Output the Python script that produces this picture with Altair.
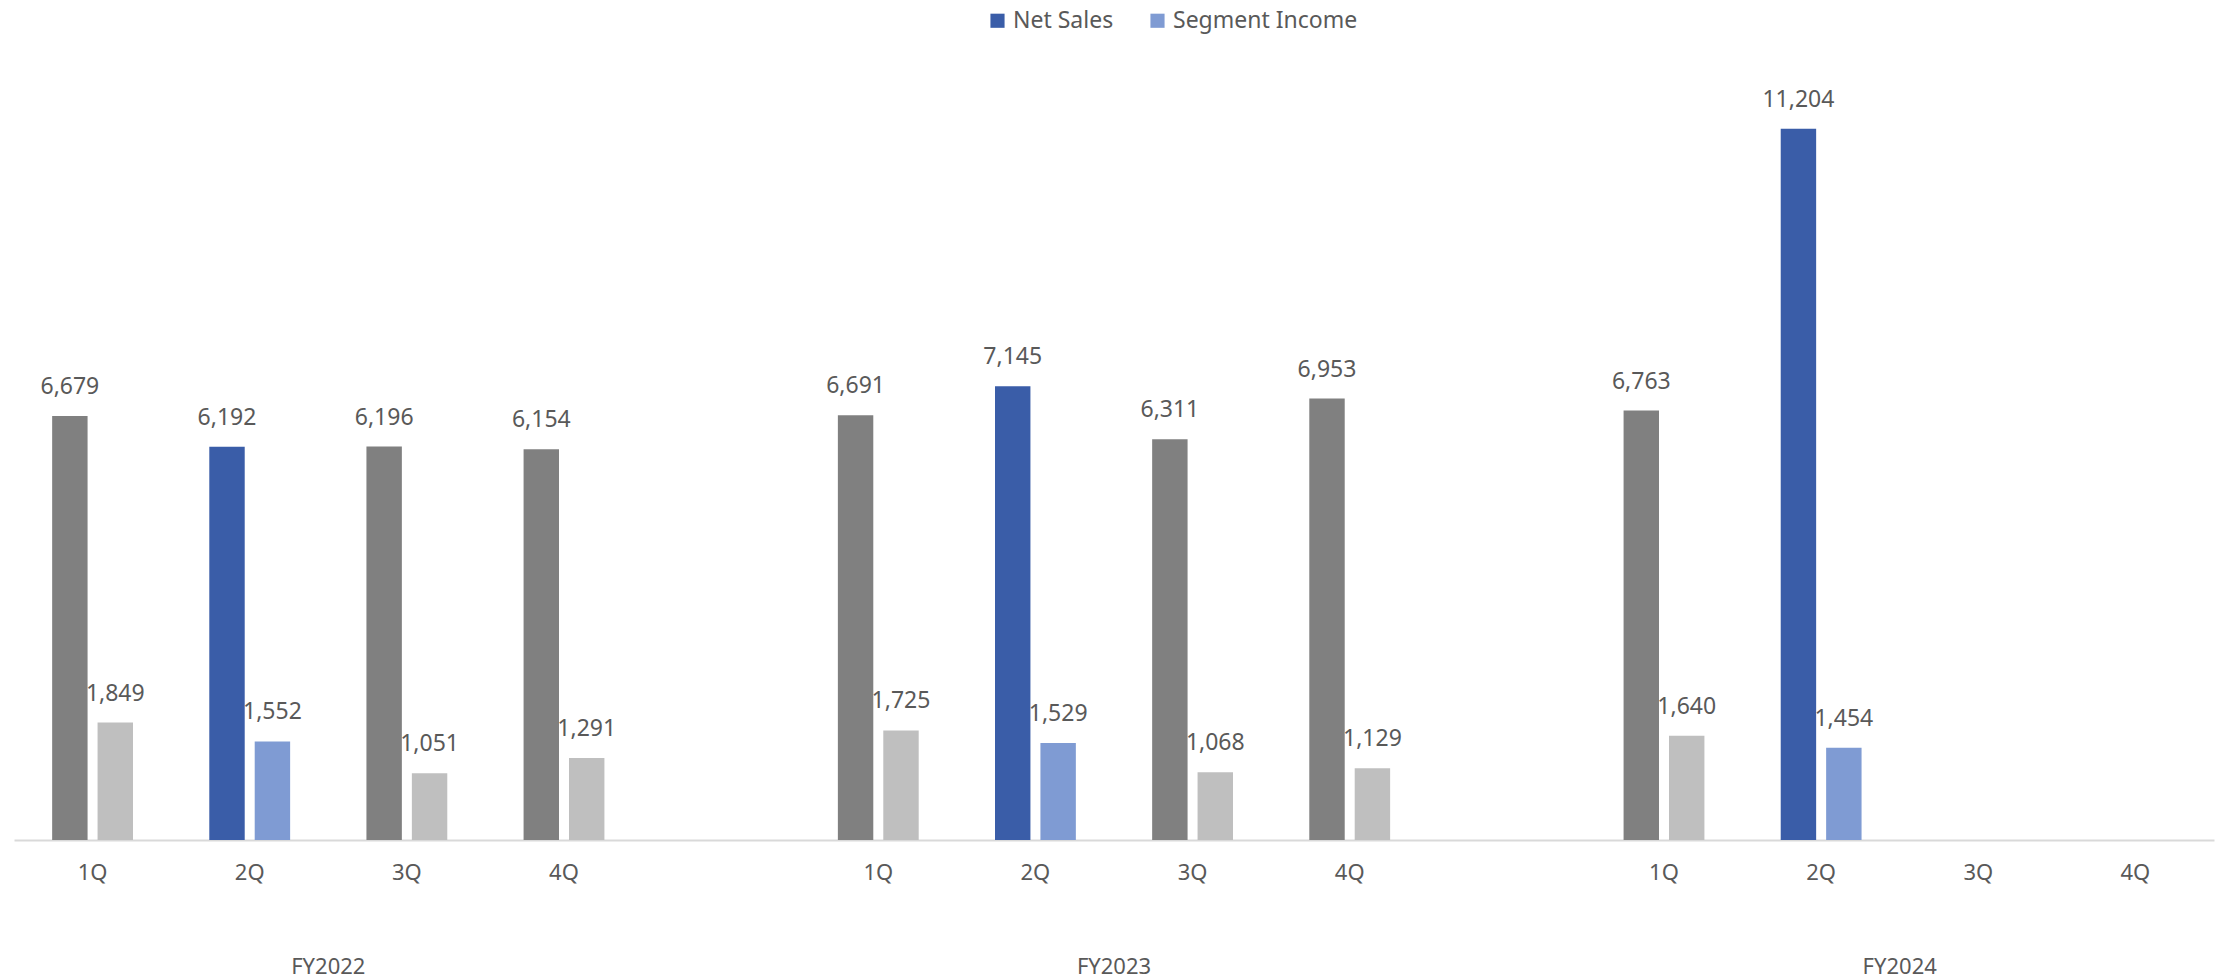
import altair as alt
import pandas as pd

# Quarterly figures by fiscal year
years = ["FY2022", "FY2023", "FY2024"]
quarters = ["1Q", "2Q", "3Q", "4Q"]
net_sales = {
    "FY2022": [6679, 6192, 6196, 6154],
    "FY2023": [6691, 7145, 6311, 6953],
    "FY2024": [6763, 11204],
}
segment_income = {
    "FY2022": [1849, 1552, 1051, 1291],
    "FY2023": [1725, 1529, 1068, 1129],
    "FY2024": [1640, 1454],
}
series = ["Net Sales", "Segment Income"]
highlight_quarter = "2Q"

# Category slots: four quarters per year with an empty slot between years
slots = []
for i, yr in enumerate(years):
    slots += [f"{yr} {q}" for q in quarters]
    if i < len(years) - 1:
        slots.append(f"gap{i}")

rows = []
for yr in years:
    for q, v in zip(quarters, net_sales[yr]):
        rows.append({"slot": f"{yr} {q}", "quarter": q, "series": "Net Sales", "value": v})
    for q, v in zip(quarters, segment_income[yr]):
        rows.append({"slot": f"{yr} {q}", "quarter": q, "series": "Segment Income", "value": v})
df = pd.DataFrame(rows)

year_df = pd.DataFrame({"slot": [f"{yr} 2Q" for yr in years], "year": years})

FONT = "Noto Sans"
TEXT = "#595959"

x_axis = alt.Axis(
    title=None,
    labelAngle=0,
    labelExpr="indexof(datum.value, 'gap') >= 0 ? '' : split(datum.value, ' ')[1]",
    labelFontSize=22,
    labelColor=TEXT,
    labelFont=FONT,
    labelPadding=22,
    ticks=False,
    domainColor="#D9D9D9",
    domainWidth=2,
    grid=False,
)
x_scale = alt.Scale(domain=slots, paddingInner=0, paddingOuter=0)
x_enc = alt.X("slot:N", scale=x_scale, axis=x_axis)
xoff_enc = alt.XOffset(
    "series:N", scale=alt.Scale(domain=series, paddingInner=0.22, paddingOuter=0.84)
)
y_enc = alt.Y("value:Q", scale=alt.Scale(domain=[0, 13230], nice=False), axis=None)

base = alt.Chart(df).encode(x=x_enc, xOffset=xoff_enc, y=y_enc)

highlight = base.transform_filter(
    f"datum.quarter == '{highlight_quarter}'"
).mark_bar().encode(
    color=alt.Color(
        "series:N",
        scale=alt.Scale(domain=series, range=["#3A5DA8", "#7F9BD3"]),
        legend=alt.Legend(
            title=None,
            orient="none",
            direction="horizontal",
            legendX=968,
            legendY=5,
            symbolType="square",
            symbolSize=200,
            symbolStrokeWidth=0,
            labelFontSize=23,
            labelColor=TEXT,
            labelFont=FONT,
            labelLimit=0,
            columnPadding=32,
            padding=4,
        ),
    )
)

gray_sales = base.transform_filter(
    f"datum.quarter != '{highlight_quarter}' && datum.series == 'Net Sales'"
).mark_bar(color="#808080")

gray_income = base.transform_filter(
    f"datum.quarter != '{highlight_quarter}' && datum.series == 'Segment Income'"
).mark_bar(color="#BFBFBF")

labels = base.mark_text(
    dy=-17, baseline="bottom", fontSize=23, font=FONT, color=TEXT
).encode(text=alt.Text("value:Q", format=","))

year_labels = alt.Chart(year_df).mark_text(
    fontSize=22, font=FONT, color=TEXT, baseline="middle"
).encode(
    x=alt.X("slot:N", scale=x_scale, axis=x_axis, bandPosition=1),
    y=alt.value(967),
    text="year:N",
)

chart = alt.layer(gray_sales, gray_income, highlight, labels, year_labels).properties(
    width=2200,
    height=840,
    autosize=alt.AutoSizeParams(type="none"),
    padding={"left": 14, "top": 0, "right": 7, "bottom": 140},
    background="white",
).configure_view(stroke=None)

chart.save("out.html", embed_options={"renderer": "svg", "actions": False})
